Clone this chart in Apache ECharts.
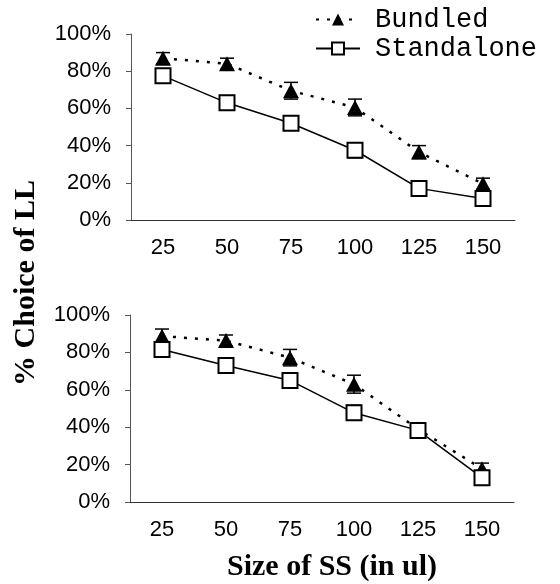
<!DOCTYPE html>
<html>
<head>
<meta charset="utf-8">
<script src="https://cdn.jsdelivr.net/npm/echarts@6/dist/echarts.min.js"></script>
<style>
  html, body { margin: 0; padding: 0; background: #fff; }
  #main { width: 560px; height: 584px; }
</style>
</head>
<body>
<div id="main"></div>
<script>
// x categories: size of SS (ul)
var sizes = ['25', '50', '75', '100', '125', '150'];

// upper panel
var topBundled = [87, 84, 69.5, 60.5, 36.5, 19.5];
var topBundledErr = [3, 3, 4.5, 4.5, 3.5, 3];
var topStandalone = [77.5, 63, 52, 37.5, 17, 11.5];
var topStandaloneErr = [2, 2, 2.5, 4, 2, 2.5];

// lower panel
var botBundled = [88.7, 86.3, 77.2, 63, 39, 17.8];
var botBundledErr = [3.8, 3, 4.4, 4.8, 3, 3];
var botStandalone = [81.5, 73, 65, 47.7, 38.3, 13];
var botStandaloneErr = [2, 2.5, 2.5, 4, 2.5, 2];

var labelFont = 'Liberation Sans, Arial, sans-serif';
var serifFont = 'Liberation Serif, Times New Roman, serif';
var monoFont = 'Liberation Mono, Courier New, monospace';

function errData(vals, errs) {
    return vals.map(function (v, i) { return [i, v - errs[i], v + errs[i]]; });
}

function errRender(params, api) {
    var lo = api.coord([api.value(0), api.value(1)]);
    var hi = api.coord([api.value(0), api.value(2)]);
    var hw = 7;
    var st = { stroke: '#000', lineWidth: 1.5 };
    return {
        type: 'group',
        children: [
            { type: 'line', shape: { x1: hi[0], y1: hi[1], x2: lo[0], y2: lo[1] }, style: st },
            { type: 'line', shape: { x1: hi[0] - hw, y1: hi[1], x2: hi[0] + hw, y2: hi[1] }, style: st },
            { type: 'line', shape: { x1: lo[0] - hw, y1: lo[1], x2: lo[0] + hw, y2: lo[1] }, style: st }
        ]
    };
}

function xAx(idx) {
    return {
        type: 'category', gridIndex: idx, data: sizes,
        axisLine: { lineStyle: { color: '#333', width: 1 } },
        axisTick: { show: false },
        axisLabel: { color: '#000', fontSize: 22, fontFamily: labelFont, margin: 17 }
    };
}

function yAx(idx) {
    return {
        type: 'value', gridIndex: idx, min: 0, max: 100, interval: 20,
        axisLine: { show: true, lineStyle: { color: '#555', width: 1 } },
        axisTick: { show: true, length: 5, lineStyle: { color: '#555' } },
        splitLine: { show: false },
        axisLabel: { color: '#000', fontSize: 22, fontFamily: labelFont, margin: 20, formatter: '{value}%' }
    };
}

function bundled(idx, vals) {
    return {
        name: 'Bundled', type: 'line', xAxisIndex: idx, yAxisIndex: idx, data: vals,
        symbol: 'triangle', symbolSize: [16, 15], z: 4,
        itemStyle: { color: '#000' },
        lineStyle: { color: '#000', width: 2.5, type: [3, 8] }
    };
}

function standalone(idx, vals) {
    return {
        name: 'Standalone', type: 'line', xAxisIndex: idx, yAxisIndex: idx, data: vals,
        symbol: 'rect', symbolSize: [15, 15], z: 5,
        itemStyle: { color: '#fff', borderColor: '#000', borderWidth: 2 },
        lineStyle: { color: '#000', width: 1.5, type: 'solid' }
    };
}

function errSeries(idx, vals, errs) {
    return {
        type: 'custom', xAxisIndex: idx, yAxisIndex: idx, z: 3,
        data: errData(vals, errs), renderItem: errRender, silent: true
    };
}

var chart = echarts.init(document.getElementById('main'));
chart.setOption({
    animation: false,
    backgroundColor: '#fff',
    legend: {
        orient: 'vertical', left: 310, top: 1, itemGap: 2,
        itemWidth: 44, itemHeight: 15,
        data: ['Bundled', 'Standalone'],
        textStyle: { fontFamily: monoFont, fontSize: 27, color: '#000', padding: [0, 0, 0, 10] }
    },
    grid: [
        { left: 131, width: 384, top: 34, height: 186 },
        { left: 130, width: 384, top: 315, height: 187 }
    ],
    xAxis: [xAx(0), xAx(1)],
    yAxis: [yAx(0), yAx(1)],
    graphic: [
        {
            type: 'text', x: 26, y: 283, rotation: Math.PI / 2,
            style: {
                text: '% Choice of LL', font: 'bold 30px ' + serifFont, fill: '#000',
                textAlign: 'center', textVerticalAlign: 'middle'
            }
        },
        {
            type: 'text', x: 332, y: 567,
            style: {
                text: 'Size of SS (in ul)', font: 'bold 30px ' + serifFont, fill: '#000',
                textAlign: 'center', textVerticalAlign: 'middle'
            }
        }
    ],
    series: [
        errSeries(0, topBundled, topBundledErr),
        errSeries(0, topStandalone, topStandaloneErr),
        bundled(0, topBundled),
        standalone(0, topStandalone),
        errSeries(1, botBundled, botBundledErr),
        errSeries(1, botStandalone, botStandaloneErr),
        bundled(1, botBundled),
        standalone(1, botStandalone)
    ]
});
</script>
</body>
</html>
